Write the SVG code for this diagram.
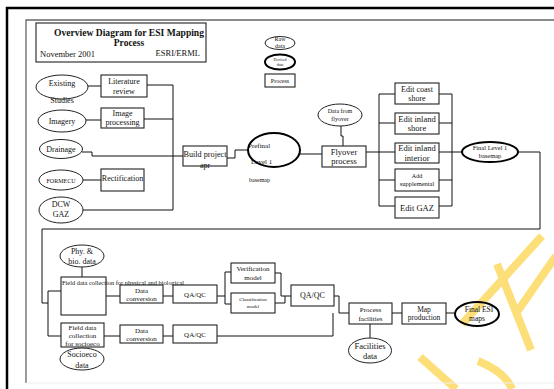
<svg xmlns="http://www.w3.org/2000/svg" width="554" height="389" viewBox="0 0 554 389">
<style>
text{font-family:"Liberation Serif","Times New Roman",serif;fill:#111;text-anchor:middle}
.b{fill:#fff;stroke:#222;stroke-width:1.1}
.e{fill:#fff;stroke:#222;stroke-width:1}
.d{fill:none;stroke:#000;stroke-width:2}
.c{fill:none;stroke:#111;stroke-width:1}
.w{fill:none;stroke:#fddf7a;stroke-width:8}
.f8{font-size:8px}
.f7{font-size:7px}
.f6{font-size:6px}
</style>
<rect width="554" height="389" fill="#fff"/>
<g id="watermark" class="w">
<line x1="542" y1="236" x2="462" y2="324"/>
<line x1="556" y1="256" x2="517" y2="312"/>
<line x1="497" y1="264" x2="531" y2="350"/>
<line x1="420" y1="357" x2="456" y2="389"/>
<path d="M478 361Q505 372 512 389"/>
</g>
<g id="frame">
<path d="M7 389V8H554" fill="none" stroke="#000" stroke-width="2.5"/>
<path d="M554 20H26V383" fill="none" stroke="#666" stroke-width="1.3"/>
<path d="M26 383H554" fill="none" stroke="#eee" stroke-width="1"/>
</g>
<g id="title">
<rect x="36" y="23" width="170" height="39" class="b"/>
<text x="129" y="36" style="font-size:9.5px;font-weight:bold" textLength="150" lengthAdjust="spacingAndGlyphs">Overview Diagram for ESI Mapping</text>
<text x="129" y="46" style="font-size:9.5px;font-weight:bold">Process</text>
<text x="40" y="57" style="font-size:8.5px;text-anchor:start">November 2001</text>
<text x="200" y="56" style="font-size:8.5px;text-anchor:end">ESRI/ERML</text>
</g>
<g id="legend">
<g id="leg-raw"><ellipse cx="280" cy="43" rx="15" ry="6.5" class="e"/><text x="280" y="41" class="f6">Raw</text><text x="280" y="48" class="f6">data</text></g>
<g id="leg-derived"><ellipse cx="280" cy="62" rx="15" ry="7.5" class="d" fill="#fff"/><text x="280" y="61" style="font-size:4px">Derived</text><text x="280" y="66" style="font-size:4px">data</text></g>
<g id="leg-process"><rect x="265" y="74" width="30" height="13" class="b"/><text x="280" y="83" class="f6">Process</text></g>
</g>
<g id="connectors" class="c">
<path d="M88 86H101"/>
<path d="M147 85H173V210"/>
<path d="M86 120H101"/>
<path d="M144 119H173"/>
<path d="M82 152H92V156H183"/>
<path d="M83 180H101"/>
<path d="M83 210H173"/>
<path d="M227 158H235V150H248"/>
<path d="M300 154H322"/>
<path d="M341 126V136H343V146"/>
<path d="M366 152H395"/>
<path d="M395 94H379V206H395M379 123H395M379 180H395"/>
<path d="M439 94H452V206H439M439 123H452M439 180H452"/>
<path d="M439 152H462"/>
<path d="M518 152H540V229H42V303H48"/>
<path d="M61 291H48V336H61"/>
<path d="M82 267V277"/>
<path d="M106 296H120M163 296H173M217 296H225"/>
<path d="M231 272H225V304H231"/>
<path d="M275 273H281V296H291M275 303H285V296"/>
<path d="M334 296H339V313H349"/>
<path d="M104 336H120M163 336H173"/>
<path d="M217 336H333V313"/>
<path d="M392 313H402M446 313H455"/>
<path d="M370 324V338"/>
</g>
<g id="existing"><ellipse cx="62" cy="87" rx="26" ry="12" class="e"/><text x="62" y="86" class="f8">Existing</text><text x="62" y="103" class="f8">Studies</text></g>
<g id="literature"><rect x="101" y="75" width="46" height="22" class="b"/><text x="124" y="84" class="f8">Literature</text><text x="124" y="94" class="f8">review</text></g>
<g id="imagery"><ellipse cx="62" cy="121" rx="24" ry="11" class="e"/><text x="62" y="124" class="f8">Imagery</text></g>
<g id="imageproc"><rect x="101" y="108" width="43" height="20" class="b"/><text x="122.5" y="116" class="f8">Image</text><text x="122.5" y="125" class="f8">processing</text></g>
<g id="drainage"><ellipse cx="61" cy="149" rx="21.5" ry="9.5" class="e"/><text x="61" y="152" class="f8">Drainage</text></g>
<g id="formecu"><ellipse cx="61" cy="180" rx="22" ry="10" class="e"/><text x="61" y="182.5" class="f6">FORMECU</text></g>
<g id="rectification"><rect x="101" y="169" width="43" height="22" class="b"/><text x="122.5" y="181" class="f8">Rectification</text></g>
<g id="dcw"><ellipse cx="61" cy="210" rx="22" ry="13" class="e"/><text x="61" y="207" class="f8">DCW</text><text x="61" y="217" class="f8">GAZ</text></g>
<g id="build"><rect x="183" y="146" width="44" height="20" class="b"/><text x="205" y="157" class="f8" textLength="43" lengthAdjust="spacingAndGlyphs">Build project</text><text x="205" y="168" class="f8">apr</text></g>
<g id="prefinal"><text x="248" y="148" class="f7" style="text-anchor:start">Prefinal</text><text x="251" y="164" class="f7" style="text-anchor:start">Level 1</text><text x="249" y="182" class="f6" style="text-anchor:start">basemap</text><ellipse cx="274" cy="150" rx="26" ry="17" class="d"/></g>
<g id="flyoverdata"><ellipse cx="340" cy="115" rx="22" ry="11" class="e"/><text x="340" y="113" class="f6">Data from</text><text x="340" y="121" class="f6">flyover</text></g>
<g id="flyover"><rect x="322" y="146" width="44" height="21" class="b"/><text x="344" y="155" style="font-size:8.5px">Flyover</text><text x="344" y="164" style="font-size:8.5px">process</text></g>
<g id="coast"><rect x="395" y="83" width="44" height="21" class="b"/><text x="417" y="91.5" class="f8">Edit coast</text><text x="417" y="101" class="f8">shore</text></g>
<g id="inlandshore"><rect x="395" y="113" width="44" height="21" class="b"/><text x="417" y="121.5" style="font-size:8.5px">Edit inland</text><text x="417" y="131" style="font-size:8.5px">shore</text></g>
<g id="inlandint"><rect x="395" y="143" width="44" height="20" class="b"/><text x="417" y="151" style="font-size:8.5px">Edit inland</text><text x="417" y="160.5" style="font-size:8.5px">interior</text></g>
<g id="supplemental"><rect x="395" y="169" width="44" height="22" class="b"/><text x="417" y="178" class="f6">Add</text><text x="417" y="186" style="font-size:6.5px">supplemental</text></g>
<g id="editgaz"><rect x="395" y="197" width="44" height="21" class="b"/><text x="417" y="210.5" style="font-size:8.5px">Edit GAZ</text></g>
<g id="finall1"><ellipse cx="490" cy="152" rx="28" ry="10" class="d" fill="#fff"/><text x="490" y="150" style="font-size:6.5px">Final Level 1</text><text x="490" y="158" style="font-size:6.5px">basemap</text></g>
<g id="phy"><ellipse cx="82" cy="256" rx="22" ry="11" class="e"/><text x="82" y="254" class="f8">Phy. &amp;</text><text x="82" y="264" class="f8">bio. data</text></g>
<g id="fieldphys"><rect x="61" y="277" width="45" height="38" class="b"/><text x="62" y="284.5" class="f7" style="text-anchor:start" textLength="122" lengthAdjust="spacingAndGlyphs">Field data collection for physical and biological</text></g>
<g id="dataconv1"><rect x="120" y="285" width="43" height="18" class="b"/><text x="141.5" y="292.5" class="f7">Data</text><text x="141.5" y="300.5" class="f7">conversion</text></g>
<g id="qaqc1"><rect x="173" y="285" width="44" height="18" class="b"/><text x="195" y="297" class="f7">QA/QC</text></g>
<g id="verification"><rect x="231" y="263" width="44" height="20" class="b"/><text x="253" y="271" class="f7">Verification</text><text x="253" y="279.5" class="f7">model</text></g>
<g id="classification"><rect x="231" y="293" width="44" height="20" class="b"/><text x="253" y="301" style="font-size:5px">Classification</text><text x="253" y="307.5" style="font-size:5px">model</text></g>
<g id="qaqc2"><rect x="291" y="285" width="43" height="21" class="b"/><text x="312.5" y="298" class="f8">QA/QC</text></g>
<g id="fieldsocio"><rect x="61" y="323" width="43" height="24" class="b"/><text x="82.5" y="330" class="f7">Field data</text><text x="82.5" y="338" class="f7">collection</text><text x="82.5" y="346" class="f7">for socioeco</text></g>
<g id="dataconv2"><rect x="120" y="325" width="43" height="18" class="b"/><text x="141.5" y="332.5" class="f7">Data</text><text x="141.5" y="340.5" class="f7">conversion</text></g>
<g id="qaqc3"><rect x="173" y="325" width="44" height="18" class="b"/><text x="195" y="337" class="f7">QA/QC</text></g>
<g id="socio"><ellipse cx="82" cy="359" rx="22" ry="11" class="e"/><text x="82" y="357" class="f8">Socioeco</text><text x="82" y="367.5" class="f8">data</text></g>
<g id="procfac"><rect x="349" y="303" width="43" height="21" class="b"/><text x="370.5" y="311.5" class="f7">Process</text><text x="370.5" y="320.5" class="f7">facilities</text></g>
<g id="facdata"><ellipse cx="370" cy="350.5" rx="21.5" ry="12.5" class="e"/><text x="370" y="349" style="font-size:8.5px">Facilities</text><text x="370" y="358.5" style="font-size:8.5px">data</text></g>
<g id="mapprod"><rect x="402" y="303" width="44" height="21" class="b"/><text x="424" y="311.5" style="font-size:7.5px">Map</text><text x="424" y="320" style="font-size:7.5px">production</text></g>
<g id="finalesi"><ellipse cx="477" cy="314" rx="22" ry="12" class="d" fill="#fff"/><text x="479" y="312" style="font-size:7.5px">Final ESI</text><text x="477" y="321" style="font-size:7.5px">maps</text></g>
</svg>
